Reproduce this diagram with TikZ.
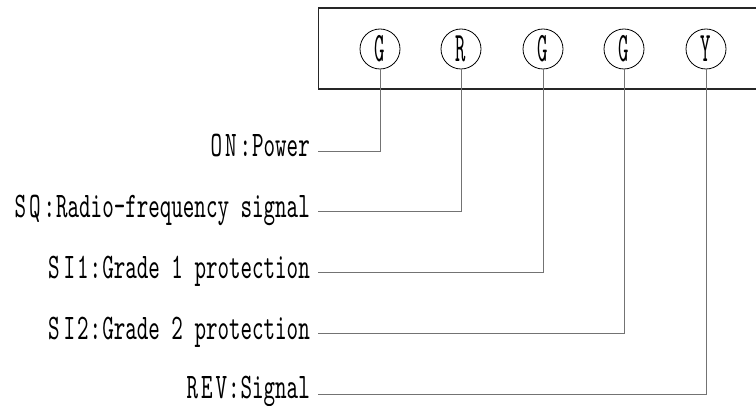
\documentclass[tikz,border=0pt]{standalone}
\usepackage{fontspec}
% Condensed serif monospace for the labels and the lamp letters
\newfontfamily\tagfamily{lmmono10-regular.otf}[FakeStretch=0.61]
\newfontfamily\lampfamily{lmmono10-regular.otf}[FakeStretch=0.47]
\newcommand\tagfont{\tagfamily\fontsize{36}{38}\selectfont}
\newcommand\lampfont{\lampfamily\fontsize{42}{44}\selectfont}
\begin{document}
\begin{tikzpicture}[x=1pt,y=-1pt,
  lamp/.style={circle,draw,line width=0.8pt,minimum size=40pt,inner sep=0pt,font=\lampfont},
  tag/.style={anchor=base east,inner sep=0pt,font=\tagfont},
  wire/.style={draw=black!55,line width=0.9pt},
  panel/.style={draw=black!85,line width=1.6pt}]
\useasboundingbox (0,0) rectangle (756,406);
\clip (0,0) rectangle (756,406);

% front panel (continues past the right edge)
\draw[panel] (770,8) -- (318.5,8) -- (318.5,89) -- (770,89);

% indicator lamps
\node[lamp] (l1) at (380,49) {G};
\node[lamp] (l2) at (461,49) {R};
\node[lamp] (l3) at (543,49) {G};
\node[lamp] (l4) at (624,49) {G};
\node[lamp] (l5) at (706,49) {Y};

% legend entries
\node[tag] (t1) at (310,157)   {O\kern3pt N\kern3pt:\kern1pt Power};
\node[tag] (t2) at (310,217.5) {S\kern3pt Q\kern3pt:\kern1pt Radio-frequency signal};
\node[tag] (t3) at (310,278.5) {S\kern4pt I\kern2pt 1\kern1pt:\kern1pt Grade 1 protection};
\node[tag] (t4) at (310,339.5) {S\kern4pt I\kern2pt 2\kern1pt:\kern1pt Grade 2 protection};
\node[tag] (t5) at (310,398.5) {R\kern3pt E\kern3pt V\kern1pt:\kern1pt Signal};

% leader lines from each lamp to its entry
\foreach \i in {1,...,4}
  \draw[wire] (l\i.south) |- ([xshift=8pt,yshift=6pt]t\i.base east);
\draw[wire] (l5.south) |- ([xshift=8pt,yshift=4.5pt]t5.base east);
\end{tikzpicture}
\end{document}
